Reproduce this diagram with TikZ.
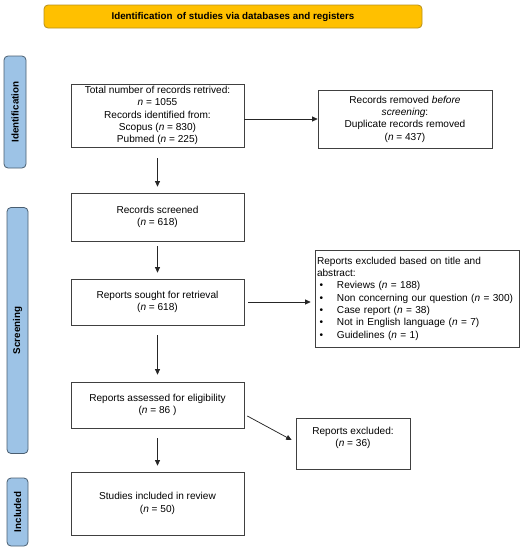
\documentclass[tikz,border=0pt]{standalone}
\usepackage{fontspec}
\setmainfont{Liberation Sans}
\usetikzlibrary{arrows.meta}
\definecolor{titlefill}{HTML}{FFC000}
\definecolor{titledraw}{HTML}{B8901A}
\definecolor{barfill}{HTML}{9DC3E6}
\definecolor{bardraw}{HTML}{4A5E70}
\definecolor{boxdraw}{HTML}{404040}
\newcommand{\nn}{\textit{n}}
\newcommand{\bul}{\makebox[20pt][l]{\hspace{2.5pt}•}}
\begin{document}
\begin{tikzpicture}[x=1pt,y=-1pt,
  every node/.style={font=\fontsize{10.1}{12.3}\selectfont, inner sep=2pt},
  titlebox/.style={draw=titledraw, fill=titlefill, rounded corners=4pt, line width=0.8pt,
    minimum width=378pt, minimum height=23pt, font=\bfseries\fontsize{9.8}{11}\selectfont},
  bar/.style={draw=bardraw, fill=barfill, rounded corners=4pt, line width=0.8pt,
    minimum width=#1, font=\bfseries\fontsize{9.8}{11}\selectfont},
  box/.style={draw=boxdraw, line width=0.7pt, align=center, minimum width=173pt},
  arr/.style={draw=black!85, line width=0.75pt, -{Triangle[length=5.5pt,width=5pt]}}
]
\useasboundingbox (0,0) rectangle (530,550);
\node[titlebox] (title) at (233,16.5) {Identification\, of studies via databases and registers};

\node[bar=112pt, minimum height=22pt, rotate=90] (idbar) at (15,112) {Identification};
\node[bar=246pt, minimum height=21pt, rotate=90] (scbar) at (17.5,330.5) {Screening};
\node[bar=68pt, minimum height=21pt, rotate=90] (inbar) at (17.5,512) {Included};

\node[box, minimum height=63pt] (b1) at (157.5,115.5)
  {Total number of records retrived:\\ \nn{} = 1055\\ Records identified from:\\ Scopus (\nn{} = 830)\\ Pubmed (\nn{} = 225)};
\node[box, minimum width=174pt, minimum height=58pt] (rem) at (405,119)
  {Records removed \textit{before}\\ \textit{screening}:\\ Duplicate records removed\\ (\nn{} = 437)};
\node[box, minimum height=48pt] (scr) at (157.5,217) {Records screened\\ (\nn{} = 618)};
\node[box, minimum height=46pt] (sought) at (157.5,302) {Reports sought for retrieval\\ (\nn{} = 618)};
\node[box, minimum width=204pt, minimum height=97pt, align=left, text width=200pt] (excl) at (417,298.5)
  {Reports excluded based on title and\\ abstract:\\
   \bul Reviews (\nn{} = 188)\\
   \bul Non concerning our question (\nn{} = 300)\\
   \bul Case report (\nn{} = 38)\\
   \bul Not in English language (\nn{} = 7)\\
   \bul Guidelines (\nn{} = 1)};
\node[box, minimum height=46pt] (assess) at (157.5,405) {Reports assessed for eligibility\\ (\nn{} = 86 )};
\node[box, minimum width=114pt, minimum height=51pt] (excl2) at (353,443.5) {};
\node[align=center, anchor=north] (excl2t) at ([yshift=-7pt]excl2.north) {Reports excluded:\\ (\nn{} = 36)};
\node[box, minimum height=63pt] (incl) at (157.5,503.5) {Studies included in review\\ (\nn{} = 50)};

\draw[arr] (b1.east |- rem.west) -- (rem.west);
\draw[arr, shorten <=11pt, shorten >=6pt] (b1.south) -- (scr.north);
\draw[arr, shorten <=5pt, shorten >=6pt] (scr.south) -- (sought.north);
\draw[arr, shorten <=4pt, shorten >=4pt] (sought.east) -- (sought.east -| excl.west);
\draw[arr, shorten <=10pt, shorten >=7pt] (sought.south) -- (assess.north);
\draw[arr] ([shift={(3,11)}]assess.east) -- ([shift={(-4,-3.5)}]excl2.west);
\draw[arr, shorten <=10pt, shorten >=6pt] (assess.south) -- (incl.north);
\end{tikzpicture}
\end{document}
